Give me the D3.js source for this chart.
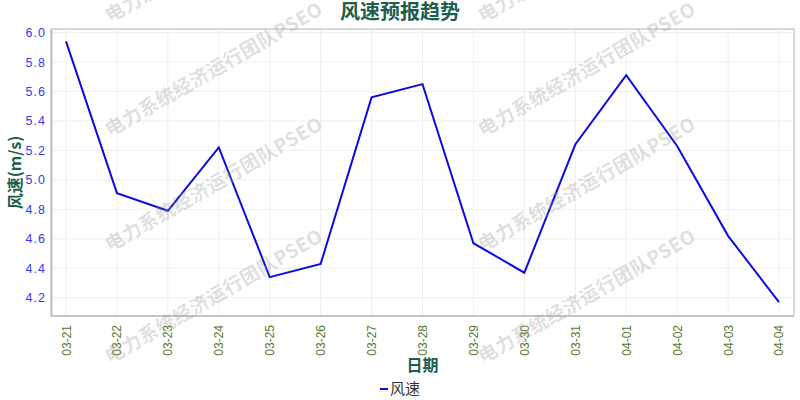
<!DOCTYPE html>
<html>
<head>
<meta charset="utf-8">
<script src="https://cdn.jsdelivr.net/npm/d3@7"></script>
<style>
  html, body { margin: 0; padding: 0; background: #fff; }
  svg { display: block; font-family: "Noto Sans CJK SC", "Noto Sans", sans-serif; }
</style>
</head>
<body>
<svg id="chart" width="800" height="400"></svg>
<script>
// ---- data ----
const dates = ['03-21', '03-22', '03-23', '03-24', '03-25', '03-26', '03-27', '03-28',
               '03-29', '03-30', '03-31', '04-01', '04-02', '04-03', '04-04'];
const windSpeed = [5.94, 4.91, 4.79, 5.22, 4.34, 4.43, 5.56, 5.65,
                   4.57, 4.37, 5.24, 5.71, 5.23, 4.62, 4.17];
const yTicks = [4.2, 4.4, 4.6, 4.8, 5.0, 5.2, 5.4, 5.6, 5.8, 6.0];

const TITLE = '风速预报趋势', XLABEL = '日期', YLABEL = '风速(m/s)', SERIES = '风速';
const WATERMARK = '电力系统经济运行团队PSEO';

// ---- layout ----
const M = { left: 51, top: 29, right: 794, bottom: 316 };
const GREEN = '#1d5e4d', BLUE = '#0c0cde';

const svg = d3.select('#chart');

const x = d3.scalePoint().domain(dates).range([M.left, M.right]).padding(0.295);
const y = d3.scaleLinear().domain([4.076, 6.024]).range([M.bottom, M.top]);

// grid
const grid = svg.append('g').attr('stroke', '#ebebeb').attr('stroke-width', 0.8);
grid.selectAll('line.gx').data(dates).join('line').attr('class', 'gx')
  .attr('x1', d => x(d)).attr('x2', d => x(d)).attr('y1', M.top).attr('y2', M.bottom);
grid.selectAll('line.gy').data(yTicks).join('line').attr('class', 'gy')
  .attr('x1', M.left).attr('x2', M.right).attr('y1', d => y(d)).attr('y2', d => y(d));

// frame
svg.append('rect').attr('x', M.left).attr('y', M.top)
  .attr('width', M.right - M.left).attr('height', M.bottom - M.top)
  .attr('fill', 'none').attr('stroke', '#b4b4b4').attr('stroke-width', 1);

// axes (d3 generators, restyled)
const yAxis = svg.append('g').attr('transform', `translate(${M.left},0)`)
  .call(d3.axisLeft(y).tickValues(yTicks).tickFormat(d3.format('.1f')).tickSize(0).tickPadding(5));
yAxis.select('.domain').attr('stroke', '#c4c4c4').attr('stroke-width', 2);
yAxis.selectAll('text').attr('fill', '#3838ee').attr('font-size', 12.5)
  .attr('letter-spacing', '1px');

const xAxis = svg.append('g').attr('transform', `translate(0,${M.bottom})`)
  .call(d3.axisBottom(x).tickSize(0).tickPadding(0));
xAxis.select('.domain').attr('stroke', '#c4c4c4').attr('stroke-width', 2)
  .attr('d', `M${M.left},0H${M.right}`);
xAxis.selectAll('text').attr('fill', '#58792f').attr('font-size', 12)
  .attr('text-anchor', 'end').attr('dy', null).attr('y', 0)
  .attr('transform', 'translate(4,9) rotate(-90)');

// line
svg.append('path').datum(windSpeed)
  .attr('fill', 'none').attr('stroke', BLUE).attr('stroke-width', 2)
  .attr('stroke-linejoin', 'miter')
  .attr('d', d3.line().x((d, i) => x(dates[i])).y(d => y(d)));

// title + axis labels
svg.append('text').attr('x', 400).attr('y', 19).attr('text-anchor', 'middle')
  .attr('font-size', 20).attr('font-weight', 'bold').attr('fill', GREEN).text(TITLE);
svg.append('text').attr('x', (M.left + M.right) / 2).attr('y', 371).attr('text-anchor', 'middle')
  .attr('font-size', 16).attr('font-weight', 'bold').attr('fill', GREEN).text(XLABEL);
svg.append('text').attr('transform', `translate(21,${(M.top + M.bottom) / 2}) rotate(-90)`)
  .attr('text-anchor', 'middle').attr('font-size', 16).attr('font-weight', 'bold')
  .attr('fill', GREEN).text(YLABEL);

// legend
const leg = svg.append('g').attr('transform', 'translate(380,389)');
leg.append('line').attr('x1', 0).attr('x2', 8).attr('y1', 0).attr('y2', 0)
  .attr('stroke', BLUE).attr('stroke-width', 2);
leg.append('text').attr('x', 10).attr('y', 5).attr('font-size', 15).attr('fill', '#333')
  .text(SERIES);

// watermark tiles
const wmX = [110, 483], wmY = [23, 137, 252, 364];
const wm = svg.append('g').attr('fill', '#9a9a9a').attr('fill-opacity', 0.32)
  .attr('font-size', 19).attr('font-weight', 'bold');
wmX.forEach(wx => wmY.forEach(wy => {
  wm.append('text').attr('transform', `translate(${wx},${wy}) rotate(-30)`)
    .attr('letter-spacing', '0.5px').text(WATERMARK);
}));
</script>
</body>
</html>
